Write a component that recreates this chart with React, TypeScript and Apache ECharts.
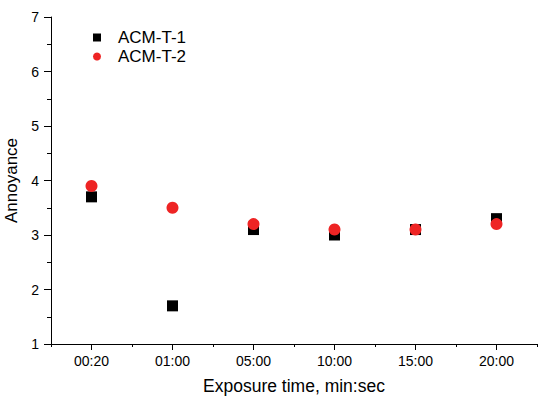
import React, { useEffect, useRef } from "react";
import * as echarts from "echarts";

const categories = ["00:20", "01:00", "05:00", "10:00", "15:00", "20:00"];
const acmT1 = [3.7, 1.7, 3.1, 3.0, 3.1, 3.3];
const acmT2 = [3.9, 3.5, 3.2, 3.1, 3.1, 3.2];
const seriesNames = ["ACM-T-1", "ACM-T-2"];

const FONT = "Liberation Sans, Arial, sans-serif";

export default function App() {
  const ref = useRef<HTMLDivElement>(null);
  useEffect(() => {
    if (!ref.current) return;
    const chart = echarts.init(ref.current, undefined, { renderer: "svg" });
    chart.setOption({
      animation: false,
      backgroundColor: "#ffffff",
      textStyle: { fontFamily: FONT },
      grid: { left: 51, right: 5, top: 17, bottom: 53, containLabel: false, outerBoundsMode: "none" },
      legend: {
        left: 88,
        top: 24,
        orient: "vertical",
        itemWidth: 8,
        itemHeight: 8,
        itemGap: 2,
        textStyle: { fontFamily: FONT, fontSize: 17, color: "#000", padding: [0, 0, 0, 12] },
        data: [
          { name: seriesNames[0], icon: "rect" },
          { name: seriesNames[1], icon: "circle" },
        ],
      },
      xAxis: [
        {
          type: "category",
          data: categories,
          boundaryGap: true,
          position: "bottom",
          name: "Exposure time, min:sec",
          nameLocation: "middle",
          nameGap: 33,
          nameTextStyle: { fontFamily: FONT, fontSize: 17.5, color: "#000" },
          axisLine: { lineStyle: { color: "#000", width: 1 } },
          axisTick: { show: true, alignWithLabel: true, length: 6, lineStyle: { color: "#000" } },
          axisLabel: { fontFamily: FONT, fontSize: 14, color: "#000", margin: 10 },
          splitLine: { show: false },
        },
        {
          type: "category",
          data: categories,
          boundaryGap: true,
          position: "bottom",
          axisLine: { show: false },
          axisTick: { show: true, length: 3, lineStyle: { color: "#000" } },
          axisLabel: { show: false },
          splitLine: { show: false },
        },
      ],
      yAxis: {
        type: "value",
        min: 1,
        max: 7,
        interval: 1,
        name: "Annoyance",
        nameLocation: "middle",
        nameGap: 27,
        nameTextStyle: { fontFamily: FONT, fontSize: 17, color: "#000" },
        axisLine: { show: true, lineStyle: { color: "#000", width: 1 } },
        axisTick: { show: true, length: 7, lineStyle: { color: "#000" } },
        minorTick: { show: true, splitNumber: 2, length: 4, lineStyle: { color: "#000" } },
        axisLabel: { fontFamily: FONT, fontSize: 14, color: "#000", margin: 12 },
        splitLine: { show: false },
      },
      series: [
        {
          name: seriesNames[0],
          type: "scatter",
          symbol: "rect",
          symbolSize: 11,
          itemStyle: { color: "#000000", opacity: 1 },
          data: acmT1,
          xAxisIndex: 0,
        },
        {
          name: seriesNames[1],
          type: "scatter",
          symbol: "circle",
          symbolSize: 12,
          itemStyle: { color: "#ee2424", opacity: 1 },
          data: acmT2,
          xAxisIndex: 0,
        },
      ],
    });
    return () => chart.dispose();
  }, []);
  return <div ref={ref} style={{ width: 542, height: 397, position: "absolute", left: 0, top: 0 }} />;
}
